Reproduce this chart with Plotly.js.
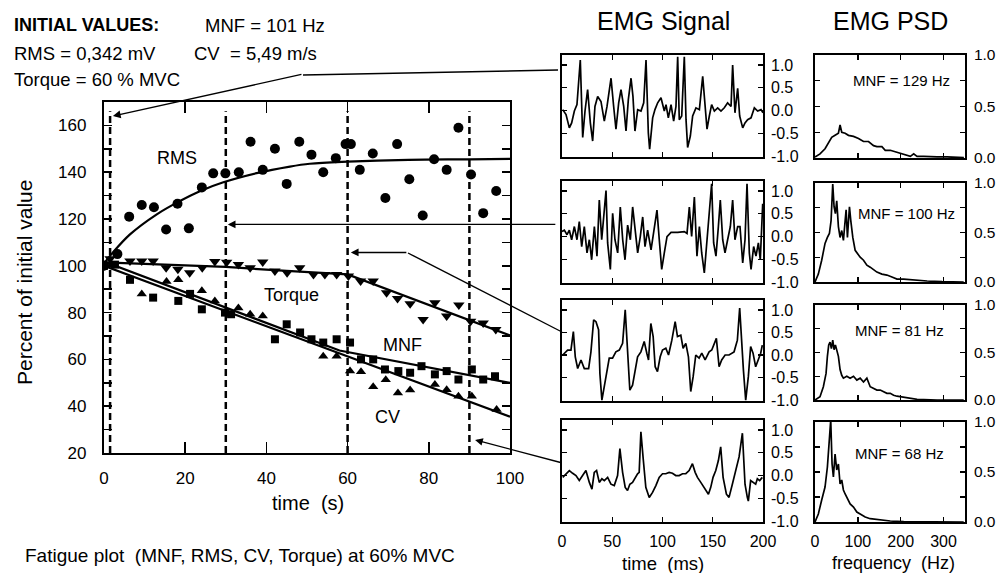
<!DOCTYPE html>
<html><head><meta charset="utf-8">
<script src="https://cdn.plot.ly/plotly-3.0.1.min.js"></script>
<style>html,body{margin:0;padding:0;background:#fff;}#chart{width:998px;height:573px;}</style>
</head><body><div id="chart"></div>
<script>
// ---------- Fatigue plot data ----------
const epochTimes = [1.5, 30, 60, 90];

const rmsX = [0,3.3,6.2,9.3,12.3,15.3,18.1,20.9,24.1,26.9,29.9,33.2,36.1,39.1,42.1,45,48.1,51.1,54,57.1,59.5,60.8,63,66.2,69.3,72.2,75.2,78.5,81.3,84.4,87.3,90.4,93.4,96.6];
const rmsY = [100,105,121,126,125,115.5,126.5,116,133.5,139.5,139.5,140,153,141,150,135,153,147.5,140,146,152,152,141,148,129,152,137,121.5,145.5,141,159,139,122.5,132];

const torqueX = [0,1.5,6.4,9.3,12.1,15.3,18.2,21.1,24.2,27.3,30.2,33.1,36,39.1,42.1,45.1,48.2,51.6,54.4,57.3,60.2,63.2,66.3,69.6,72.3,75.4,78.6,81.5,84.4,87.4,90.3,93.4,96.5];
const torqueY = [100,103,102,102,102,99.2,98.5,97,99.2,101.8,101.5,100.6,99.2,101.6,97.8,97,99.2,96.3,96.3,96.3,95.6,93.5,93.5,88.5,86,83.8,77,84.2,78.5,83.2,76.3,75.6,72.8];

const mnfX = [0,2.7,6.4,12.1,18.3,21.2,24.1,29.8,31.3,42.1,45,48.3,51.1,54,57.3,60.6,63.3,66.3,69.2,72.5,75.4,78.2,81.5,84.4,87.3,90.6,93.4,96.3];
const mnfY = [100,100.5,94,86.4,85,88,81.4,80,79.3,68.6,75,71.5,68.6,67.2,68.6,67.2,60,60,55.7,55,54.3,57.1,53.6,55,51.4,55.7,51.4,52.8];

const cvX = [0,9.3,15.4,18.3,24.1,27.3,33.1,36,39.1,54,57.3,60.6,63.3,66.3,69.4,72.4,75.4,81.5,84.4,87.3,90.6,96.7];
const cvY = [100,88,93.3,94,89.3,85,82,79.3,78.5,61.3,61.3,55,54.7,48.3,51.3,45.6,46.9,49.3,47,44.3,44.3,38.6];

const rmsFitX = [0,2,6.4,13,18.7,23.6,29.4,37.6,45.8,50.7,60,75,90,100];
const rmsFitY = [101,105.3,113.4,122,127.7,131.9,135.7,139.6,142.4,143.6,144.5,145.3,145.5,145.7];
const torqueFitX = [0,30,45,60,100];
const torqueFitY = [101.5,99.5,97.8,96.3,70.2];
const mnfFitX = [0,58,100];
const mnfFitY = [101.8,63.8,50];
const cvFitX = [0,100];
const cvFitY = [100,35.5];

const mainXTicks = [0,20,40,60,80,100];
const mainYTickVals = [20,30,40,50,60,70,80,90,100,110,120,130,140,150,160];
const mainYTickText = ['20','','40','','60','','80','','100','','120','','140','','160'];

// ---------- EMG signals (time ms, amplitude) ----------
const emg1T = [0.7,4,7.3,9.6,12.3,14.9,18.2,20.6,22.9,25.5,28.2,30.5,32.8,35.5,38.8,42.1,44.8,48.8,51.4,53.7,56.4,58.7,61.4,63.7,66,68.7,70.6,72.6,75.3,78.6,81.3,83.6,85.9,87.2,90.2,92.5,95.2,98.5,101.8,103.5,105.8,108.5,111.1,113.4,115.1,116.7,119.1,121.7,123.4,125,127.7,130,133.3,136.7,140,142.3,144.3,146.6,148.9,151.6,154.9,158.2,161.5,164.8,168.2,169.8,172.1,174.8,176.8,179.8,182.1,184.7,188.1,191.4,194.7,198,200];
const emg1V = [0.02,-0.09,-0.38,-0.27,-0.01,0.13,1.11,-0.59,-0.01,0.46,-0.27,-0.67,0.09,0.31,0.2,-0.23,0.09,0.71,0.09,-0.41,0.17,0.46,0.09,-0.45,0.24,0.71,0.31,-0.45,0.02,-0.01,0.17,1.11,-0.49,-0.85,-0.16,0.02,0.17,0.28,-0.01,0.13,-0.16,0.13,-0.23,0.09,1.18,-0.2,-0.12,1.18,-0.2,-0.81,-0.56,-0.12,0.06,0.02,0.75,0.09,-0.41,-0.12,0.13,-0.01,0.06,-0.01,0.06,0.17,0.09,1.0,-0.05,0.49,-0.12,-0.38,-0.27,-0.2,-0.16,0.06,-0.01,0.02,-0.05];
const emg2T = [0,2.3,5,7.3,9.6,12.3,14.9,17.2,19.6,22.2,24.9,27.2,29.5,32.2,34.8,37.1,39.5,42.1,43.8,45.4,48.1,50.4,52.7,55.4,58,60.4,62.7,65.3,68,70.3,72.6,75.3,77.9,80.3,82.6,85.2,88.6,91.9,94.5,96.8,99.2,101.8,104.5,108.5,115.1,121.7,124.4,126.7,129,131.7,134.3,136.7,139,141.6,143.9,146.6,148.9,150.9,153.2,155.6,157.5,159.9,162.2,164.8,167.5,169.8,172.1,174.8,177.1,179.8,182.1,184.1,186.4,188.1,190.7,193,195.4,197.3,199.7];
const emg2V = [0.11,0.14,0.04,0.14,-0.07,0.22,-0.07,0.33,-0.22,0.22,-0.36,-0.07,-0.51,0.22,-0.43,0.8,-0.07,0.51,1.01,-0.14,-0.72,0.51,-0.07,-0.36,0.65,-0.07,-0.51,0.25,-0.07,0.65,0.14,-0.36,0,0.43,-0.22,0.14,-0.29,0.22,0.58,-0.07,-0.72,-0.36,0,0.09,0.09,0.11,0.07,0.65,0,0.87,-0.43,0.22,-0.36,-0.8,-0.22,0.51,1.16,-0.14,-0.43,0.22,0.8,-0.07,-0.36,-0.07,0.22,0.8,-0.07,0.22,0.22,-0.58,-0.07,1.16,-0.36,-0.72,-0.22,-0.43,-0.14,-0.51,0.72];
const emg3T = [0.7,5.6,8.9,11.3,13.2,15.6,18.9,22.2,26.5,28.8,31.5,33.8,36.4,37.7,39.7,42.1,44.4,47,50.3,53.6,57,60.3,62.9,65.2,67.5,70.2,72.8,75.2,78.5,81.8,84.4,86.1,88.4,90.7,92.7,95,97.7,100,103.3,106,109.3,112.6,114.9,118.2,120.5,123.2,125.8,128.1,130.5,133.1,136.4,139.1,142.4,146.4,149,151.3,153.6,156.3,158.9,162.3,166.2,171.2,174.5,176.8,178.8,180.5,182.8,185.4,187.7,190.1,192.7,195.4,197.7,199.3];
const emg3V = [0,0.11,0.11,0.52,-0.04,-0.3,-0.11,-0.3,-0.3,0.07,0.78,0.74,0.56,-0.41,-1.0,-0.7,-0.33,-0.07,-0.07,0.07,0.11,0.26,1.0,0.11,-0.78,-0.67,-0.33,-0.04,0.07,0.3,0.04,-0.11,0.7,0.41,-0.26,-0.37,-0.04,0.11,0.15,0,0.33,0.74,0.41,0.44,0.15,0.26,-0.04,-0.81,-0.48,0,-0.07,0.04,-0.11,0.07,0.11,0.26,0.37,-0.26,-0.11,0,0,0.07,0.33,1.04,0.19,-0.33,-1.0,-0.48,0.19,0.04,-0.26,-0.11,0.04,0.22];
const emg4T = [0.7,4,7.3,10.6,13.9,17.2,20.5,23.8,27.2,29.8,32.1,34.4,37.1,39.7,42.1,45.4,48.7,52,55.3,57.6,60.3,62.9,65.2,67.5,70.2,72.8,75.2,76.8,78.5,80.8,83.4,86.8,90.1,93.4,96.7,100,103.3,106.6,109.9,113.2,116.6,119.9,123.2,126.5,129.8,132.5,134.8,138.1,141.4,145.7,148,150.3,153,155.6,157.9,160.3,163.6,166.2,169.5,172.8,176.2,179.5,182.1,184.4,185.4,187.7,190.1,192.7,194.4,196.7,199.3];
const emg4V = [-0.04,0.04,0.11,0.05,0,-0.11,0,0.11,-0.15,-0.3,0.07,0.11,-0.15,-0.07,-0.11,-0.04,-0.19,-0.22,0,0.59,0.07,-0.26,-0.33,-0.19,-0.15,-0.04,0.04,0.07,0.96,0.37,-0.26,-0.48,-0.37,-0.22,-0.04,0.04,0.04,0.07,0.05,0,0,0.04,0.04,0.11,0.26,0.07,-0.04,-0.15,-0.26,-0.41,-0.26,-0.04,0.11,0.33,0.63,-0.04,-0.41,-0.48,-0.19,0.11,0.41,0.93,-0.19,-0.48,-0.56,-0.11,-0.15,-0.19,-0.07,-0.11,-0.04];

// ---------- EMG power spectra (frequency Hz, normalised PSD) ----------
const psd1F = [0,11.7,23.4,31.2,39,46.8,54.6,58.5,62.4,70.3,78,89.8,101.5,113.2,124.9,136.6,144.4,156.1,163.9,175.6,187.4,199,210.8,222.5,230.3,238.1,253.7,269.3,285,308.4,347.4];
const psd1V = [0.01,0.04,0.09,0.14,0.2,0.22,0.24,0.32,0.25,0.24,0.22,0.21,0.19,0.16,0.16,0.12,0.11,0.11,0.075,0.075,0.06,0.04,0.03,0.016,0.04,0.016,0.016,0.01,0.01,0.01,0.003];
const psd2F = [0,7.8,15.6,23.4,28.9,33.6,37.5,41.4,44.5,47.6,50.7,54.6,58.5,62.4,66.3,70.3,72.6,75.7,80.4,83.5,88.2,93.7,99.1,105.4,113.2,121,128.8,136.6,144.4,156.1,167.8,179.5,191.3,206.9,222.5,238.1,261.5,296.6,347];
const psd2V = [0,0.08,0.22,0.39,0.45,0.49,0.62,0.99,0.76,0.69,0.82,0.56,0.45,0.52,0.42,0.66,0.73,0.45,0.76,0.62,0.45,0.32,0.29,0.25,0.22,0.17,0.15,0.12,0.1,0.08,0.07,0.05,0.03,0.03,0.024,0.017,0.01,0.003,0];
const psd3F = [0,11.7,19.5,25.8,28.9,32,35.1,38.3,41.4,44.5,47.6,50.7,54.6,58.5,62.4,66.3,74.2,82,89.8,97.6,105.4,113.2,121,128.8,136.6,144.4,152.2,160,167.8,175.6,183.4,191.3,203,214.7,238.1,285,347];
const psd3V = [0,0.035,0.14,0.28,0.46,0.58,0.61,0.54,0.63,0.53,0.58,0.51,0.46,0.32,0.26,0.23,0.25,0.23,0.25,0.21,0.23,0.19,0.23,0.14,0.12,0.105,0.105,0.09,0.07,0.07,0.05,0.04,0.03,0.02,0.007,0,0];
const psd4F = [0,7.8,15.6,23.4,28.9,33.6,36.7,39.8,42.9,46.8,50.7,54.6,58.5,62.4,66.3,70.3,74.2,82,89.8,97.6,105.4,117.1,128.8,144.4,160,175.6,206.9,347];
const psd4V = [0,0.08,0.22,0.35,0.55,0.82,1.02,0.58,0.45,0.68,0.52,0.58,0.38,0.42,0.32,0.28,0.25,0.18,0.15,0.1,0.08,0.05,0.033,0.023,0.017,0.01,0.003,0];
const psdMNF = ['MNF = 129 Hz','MNF = 100 Hz','MNF = 81 Hz','MNF = 68 Hz'];

const emgXTicks = [0,50,100,150,200];
const emgYTickVals = [-1,-0.5,0,0.5,1];
const emgYTickText = ['-1.0','-0.5','0.0','0.5','1.0'];
const psdXTicks = [0,100,200,300];
const psdYTickVals = [0,0.25,0.5,0.75,1];
const psdYTickText = ['0.0','','0.5','','1.0'];

// ---------- layout helpers ----------
const W = 998, H = 573;
const px = v => v / W;
const py = v => 1 - v / H;
const FONT = 'Liberation Sans, Arial, Helvetica, sans-serif';
const K = '#000';

function axis(extra) {
  return Object.assign({
    showline: true, linecolor: K, linewidth: 1.8, mirror: 'ticks',
    ticks: 'inside', tickcolor: K, tickwidth: 1.3, ticklen: 5,
    showgrid: false, zeroline: false, fixedrange: true,
    tickfont: {family: FONT, size: 16, color: K}
  }, extra);
}

const emgRows = [[55,157],[181,283],[300,401],[420,522]];
const psdRows = [[55,158],[183,282],[305,400],[422,522]];
const emgT = [emg1T, emg2T, emg3T, emg4T];
const emgV = [emg1V, emg2V, emg3V, emg4V];
const psdF = [psd1F, psd2F, psd3F, psd4F];
const psdV = [psd1V, psd2V, psd3V, psd4V];
const mnfLabelPos = [[901,80],[906,213],[899,330],[899,453]];

const layout = {
  width: W, height: H, margin: {l:0, r:0, t:0, b:0},
  paper_bgcolor: '#fff', plot_bgcolor: '#fff',
  showlegend: false, hovermode: false,
  font: {family: FONT, color: K},
  xaxis: axis({domain: [px(104), px(510)], range: [0,100], tickvals: mainXTicks,
    ticklen: 11, tickwidth: 1.5, linewidth: 2.2, anchor: 'y',
    tickfont: {family: FONT, size: 17, color: K}, ticklabelstandoff: 8}),
  yaxis: axis({domain: [py(453), py(102)], range: [20,170], tickvals: mainYTickVals,
    ticktext: mainYTickText, ticklen: 8, tickwidth: 1.5, linewidth: 2.2, anchor: 'x',
    tickfont: {family: FONT, size: 17, color: K}, ticklabelstandoff: 12}),
  shapes: [], annotations: []
};

const data = [];
// main scatter
data.push({x: rmsX, y: rmsY, mode: 'markers', marker: {symbol: 'circle', size: 10, color: K}});
data.push({x: torqueX, y: torqueY, mode: 'markers', marker: {symbol: 'triangle-down', size: 10, color: K}});
data.push({x: mnfX, y: mnfY, mode: 'markers', marker: {symbol: 'square', size: 8, color: K}});
data.push({x: cvX, y: cvY, mode: 'markers', marker: {symbol: 'triangle-up', size: 9, color: K}});
// fits
data.push({x: rmsFitX, y: rmsFitY, mode: 'lines', line: {color: K, width: 2.2, shape: 'spline'}});
data.push({x: torqueFitX, y: torqueFitY, mode: 'lines', line: {color: K, width: 2.2}});
data.push({x: mnfFitX, y: mnfFitY, mode: 'lines', line: {color: K, width: 2.2}});
data.push({x: cvFitX, y: cvFitY, mode: 'lines', line: {color: K, width: 2.2}});

for (let i = 0; i < 4; i++) {
  const ex = 2 + i, pxn = 6 + i;
  layout['xaxis' + ex] = axis({domain: [px(562), px(763)], range: [0,200], tickvals: emgXTicks,
    anchor: 'y' + ex, showticklabels: i === 3, ticklabelstandoff: 4});
  layout['yaxis' + ex] = axis({domain: [py(emgRows[i][1]), py(emgRows[i][0])], range: [-1.02, 1.22],
    tickvals: emgYTickVals, ticktext: emgYTickText, anchor: 'x' + ex, side: 'right', ticklabelstandoff: 3});
  layout['xaxis' + pxn] = axis({domain: [px(815), px(965)], range: [0,350], tickvals: psdXTicks,
    anchor: 'y' + pxn, showticklabels: i === 3, ticklabelstandoff: 4});
  layout['yaxis' + pxn] = axis({domain: [py(psdRows[i][1]), py(psdRows[i][0])], range: [0, 1.0],
    tickvals: psdYTickVals, ticktext: psdYTickText, anchor: 'x' + pxn, side: 'right', ticklabelstandoff: 4,
    tickfont: {family: FONT, size: 15.5, color: K}});
  data.push({x: emgT[i], y: emgV[i], xaxis: 'x' + ex, yaxis: 'y' + ex, mode: 'lines',
    line: {color: K, width: 1.7}});
  data.push({x: psdF[i], y: psdV[i], xaxis: 'x' + pxn, yaxis: 'y' + pxn, mode: 'lines',
    line: {color: K, width: 1.7}});
  layout.annotations.push({xref: 'paper', yref: 'paper', x: px(mnfLabelPos[i][0]), y: py(mnfLabelPos[i][1]),
    text: psdMNF[i], showarrow: false, xanchor: 'center', yanchor: 'middle', font: {family: FONT, size: 15, color: K}});
}

// epoch dashed lines
epochTimes.forEach(t => layout.shapes.push({type: 'line', xref: 'x', yref: 'y', x0: t, x1: t, y0: 20, y1: 166,
  line: {color: K, width: 2.5, dash: '7px,4px'}}));

// connector segments
layout.shapes.push({type: 'line', xref: 'paper', yref: 'paper', x0: px(303), y0: py(75), x1: px(558), y1: py(70), line: {color: K, width: 1.4}});
layout.shapes.push({type: 'line', xref: 'paper', yref: 'paper', x0: px(408), y0: py(253), x1: px(562), y1: py(332), line: {color: K, width: 1.4}});

// arrows
const arrows = [
  {x: 2.2, y: 164, ax: 190, ay: -42},
  {x: 30.5, y: 117.7, ax: 329, ay: 0},
  {x: 60.8, y: 105.7, ax: 57, ay: 0},
  {x: 91.4, y: 25.6, ax: 87, ay: 23}
];
arrows.forEach(a => layout.annotations.push({xref: 'x', yref: 'y', x: a.x, y: a.y, ax: a.ax, ay: a.ay,
  text: '', showarrow: true, arrowhead: 2, arrowsize: 1.1, arrowwidth: 1.4, arrowcolor: K, standoff: 0}));

function txt(text, x, y, size, opts) {
  layout.annotations.push(Object.assign({xref: 'paper', yref: 'paper', x: px(x), y: py(y), text: text,
    showarrow: false, xanchor: 'center', yanchor: 'middle', font: {family: FONT, size: size, color: K}}, opts || {}));
}
const NB = '\u00A0';
txt('<b>INITIAL VALUES:</b>', 12, 25, 18, {xanchor: 'left'});
txt('MNF = 101 Hz', 203, 25, 18.5, {xanchor: 'left'});
txt('RMS = 0,342 mV', 12, 53, 18.5, {xanchor: 'left'});
txt('CV' + NB + NB + '= 5,49 m/s', 192, 53, 18.5, {xanchor: 'left'});
txt('Torque = 60 % MVC', 12, 79, 18.5, {xanchor: 'left'});

txt('RMS', 177, 158, 18);
txt('Torque', 291, 295, 18);
txt('MNF', 402, 345, 18);
txt('CV', 387, 417, 18);

txt('Percent of initial value', 25, 283, 21, {textangle: -90});
txt('time' + NB + NB + '(s)', 308, 503, 20);
txt('Fatigue plot' + NB + NB + '(MNF, RMS, CV, Torque) at 60% MVC', 240, 555, 19);
txt('EMG Signal', 663, 21, 25);
txt('EMG PSD', 890, 21, 25);
txt('time' + NB + NB + '(ms)', 663, 563, 18.5);
txt('frequency' + NB + NB + '(Hz)', 893, 563, 18);

Plotly.newPlot('chart', data, layout, {staticPlot: true, displayModeBar: false});
</script>
</body></html>
